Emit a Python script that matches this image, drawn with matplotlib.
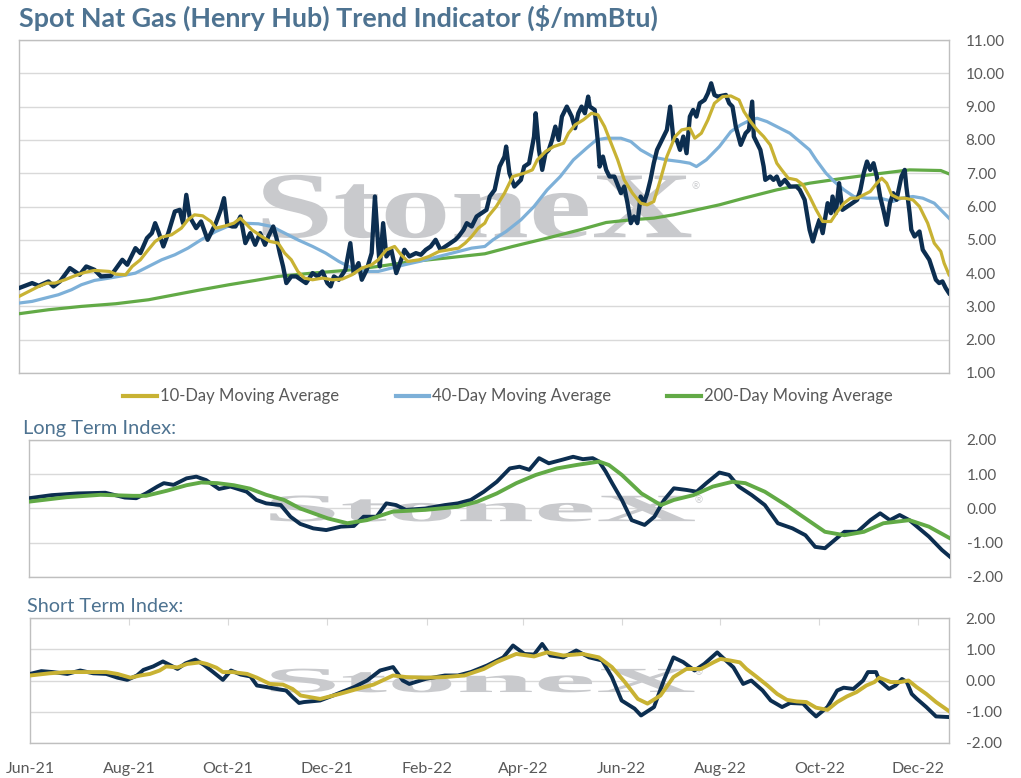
#!/usr/bin/env python3
"""Spot nat gas (Henry Hub) trend indicator: price, moving averages and index panels."""

import matplotlib
matplotlib.use("Agg")
import matplotlib.pyplot as plt
import matplotlib.dates as mdates
import pandas as pd
from matplotlib.lines import Line2D
from matplotlib.textpath import TextPath
from matplotlib.patches import PathPatch
from matplotlib.font_manager import FontProperties
from matplotlib.transforms import Affine2D

START = pd.Timestamp("2021-06-01")
END = pd.Timestamp("2022-12-20")

# top panel: days since START, $/mmBtu
SPOT_DAYS = [0, 8, 12, 18, 21, 25, 31, 34, 37, 41, 46, 50, 56, 63, 66, 71, 74, 78, 81, 83, 85,
             88, 91, 95, 98, 100, 102, 104, 108, 111, 115, 120, 123, 125, 127, 130, 132, 135,
             138, 141, 144, 147, 150, 152, 155, 157, 159, 161, 163, 166, 169, 172, 175, 179,
             182, 185, 188, 190, 192, 195, 199, 202, 204, 207, 209, 212, 215, 217, 219, 220,
             222, 224, 227, 230, 233, 235, 238, 242, 245, 248, 251, 254, 257, 260, 263, 266,
             268, 271, 273, 276, 279, 282, 285, 287, 290, 293, 296, 297, 299, 302, 306, 308,
             311, 314, 315, 317, 319, 321, 323, 325, 327, 329, 331, 334, 337, 339, 341, 343,
             345, 347, 348, 351, 353, 354, 356, 358, 360, 363, 367, 369, 371, 373, 375, 377,
             379, 381, 383, 385, 387, 389, 392, 395, 397, 399, 401, 403, 405, 407, 409, 411,
             413, 415, 418, 420, 422, 424, 426, 431, 433, 435, 437, 440, 443, 445, 447, 448,
             450, 452, 454, 455, 458, 460, 462, 464, 467, 470, 474, 476, 479, 482, 484, 486,
             488, 490, 493, 495, 496, 498, 500, 502, 505, 508, 511, 513, 515, 517, 519, 521,
             523, 525, 527, 529, 531, 533, 535, 538, 540, 541, 543, 544, 546, 549, 551, 555,
             557, 559, 561, 563, 565, 567]
SPOT = [3.55, 3.70, 3.62, 3.75, 3.60, 3.75, 4.15, 4.05, 3.95, 4.20, 4.10, 3.90, 3.92, 4.40,
        4.25, 4.75, 4.60, 5.05, 5.20, 5.50, 5.25, 4.80, 5.20, 5.85, 5.90, 5.50, 6.35, 5.70,
        5.35, 5.55, 5.00, 5.50, 5.90, 6.25, 5.45, 5.40, 5.40, 5.70, 4.90, 5.20, 4.85, 5.20,
        4.85, 5.10, 5.40, 5.05, 4.60, 4.20, 3.70, 3.90, 3.90, 3.80, 3.70, 4.00, 3.90, 4.05,
        3.70, 3.60, 3.90, 3.80, 4.10, 4.90, 4.00, 4.30, 3.80, 4.10, 4.60, 6.30, 4.80, 4.20,
        5.50, 4.50, 4.70, 4.00, 4.40, 4.70, 4.50, 4.60, 4.55, 4.70, 4.80, 5.00, 4.70, 4.80,
        4.90, 5.00, 5.10, 5.30, 5.50, 5.40, 5.70, 5.80, 5.90, 6.30, 6.50, 7.20, 7.50, 7.80,
        7.00, 6.60, 6.80, 7.20, 7.30, 8.10, 8.80, 7.70, 7.10, 7.60, 7.70, 8.00, 8.40, 8.00,
        8.70, 9.00, 8.70, 8.35, 8.80, 9.00, 8.80, 9.30, 9.00, 8.90, 7.90, 7.20, 7.50, 7.10,
        6.90, 6.90, 6.40, 6.60, 6.10, 5.50, 5.70, 5.50, 6.30, 6.10, 6.40, 6.80, 7.30, 7.70,
        8.00, 8.30, 9.00, 8.00, 8.00, 7.70, 8.10, 7.60, 8.70, 8.90, 8.70, 9.10, 9.20, 9.40,
        9.70, 9.35, 9.30, 9.35, 9.10, 9.00, 8.40, 7.85, 8.20, 8.30, 9.15, 8.10, 7.90, 7.70,
        7.20, 6.80, 6.90, 6.80, 6.90, 6.65, 6.80, 6.60, 6.60, 6.50, 6.20, 5.30, 4.95, 5.30,
        5.60, 5.20, 6.10, 5.80, 6.30, 5.80, 6.70, 5.90, 6.00, 6.10, 6.20, 6.50, 7.00, 7.35,
        7.10, 7.30, 6.90, 6.30, 5.90, 5.45, 6.10, 6.40, 6.20, 6.90, 7.10, 6.60, 5.80, 5.30,
        5.10, 5.25, 4.70, 4.40, 4.10, 3.80, 3.70, 3.75, 3.55, 3.40]

MA10_DAYS = [0, 6, 12, 17, 22, 28, 34, 40, 46, 55, 59, 65, 69, 74, 78, 83, 87, 93, 99, 103,
             107, 112, 117, 120, 126, 131, 135, 138, 142, 148, 153, 158, 162, 166, 170, 174,
             179, 185, 191, 197, 203, 209, 215, 219, 224, 229, 233, 237, 244, 250, 256, 262,
             268, 272, 276, 280, 284, 286, 291, 296, 301, 308, 313, 316, 321, 326, 332, 335,
             339, 344, 349, 353, 357, 361, 365, 369, 374, 379, 383, 387, 391, 395, 400, 404,
             409, 412, 416, 420, 424, 429, 434, 439, 442, 446, 450, 454, 458, 462, 465, 469,
             474, 478, 482, 486, 490, 495, 499, 503, 507, 511, 515, 519, 523, 526, 529, 532,
             536, 540, 545, 549, 554, 558, 562, 564, 567]
MA10 = [3.30, 3.45, 3.60, 3.70, 3.70, 3.80, 3.92, 4.02, 4.08, 4.05, 3.97, 3.95, 4.20, 4.40,
        4.65, 4.95, 5.08, 5.15, 5.35, 5.60, 5.75, 5.72, 5.55, 5.35, 5.42, 5.50, 5.65, 5.50,
        5.30, 5.10, 4.95, 4.90, 4.60, 4.40, 4.05, 3.85, 3.80, 3.85, 3.80, 3.82, 3.95, 4.15,
        4.25, 4.40, 4.70, 4.80, 4.55, 4.35, 4.40, 4.50, 4.65, 4.70, 4.75, 4.90, 5.10, 5.35,
        5.50, 5.70, 6.00, 6.40, 6.90, 7.00, 7.10, 7.40, 7.65, 7.80, 7.90, 8.20, 8.45, 8.60,
        8.80, 8.75, 8.40, 7.90, 7.40, 6.80, 6.40, 6.10, 6.05, 6.15, 6.80, 7.50, 8.10, 8.30,
        8.35, 8.05, 8.20, 8.60, 9.10, 9.30, 9.32, 9.20, 8.85, 8.55, 8.30, 8.10, 7.85, 7.30,
        7.10, 6.85, 6.80, 6.65, 6.30, 5.90, 5.55, 5.55, 5.85, 6.10, 6.25, 6.25, 6.35, 6.45,
        6.70, 6.85, 6.70, 6.35, 6.25, 6.25, 6.20, 6.00, 5.50, 4.90, 4.65, 4.30, 3.95]

MA40_DAYS = [0, 8, 16, 24, 32, 38, 46, 55, 63, 71, 79, 87, 95, 103, 111, 120, 128, 136, 146,
             154, 162, 170, 179, 187, 195, 203, 211, 219, 227, 235, 244, 252, 260, 268, 276,
             284, 289, 297, 306, 314, 322, 330, 338, 346, 352, 358, 367, 373, 379, 387, 395,
             403, 409, 413, 419, 423, 427, 434, 440, 446, 450, 456, 462, 470, 476, 482, 486,
             492, 497, 503, 509, 517, 525, 533, 538, 545, 551, 558, 562, 567]
MA40 = [3.10, 3.15, 3.25, 3.35, 3.50, 3.65, 3.78, 3.85, 3.92, 4.00, 4.20, 4.40, 4.55, 4.75,
        5.00, 5.25, 5.42, 5.50, 5.48, 5.40, 5.20, 5.00, 4.80, 4.60, 4.35, 4.15, 4.05, 4.05,
        4.15, 4.25, 4.35, 4.45, 4.55, 4.65, 4.75, 4.80, 5.00, 5.25, 5.60, 6.00, 6.50, 6.90,
        7.40, 7.75, 8.00, 8.05, 8.05, 7.95, 7.70, 7.48, 7.40, 7.35, 7.30, 7.20, 7.40, 7.60,
        7.80, 8.25, 8.45, 8.60, 8.65, 8.55, 8.40, 8.20, 7.95, 7.70, 7.40, 7.00, 6.75, 6.50,
        6.30, 6.25, 6.25, 6.15, 6.25, 6.30, 6.25, 6.10, 5.90, 5.65]

MA200_DAYS = [0, 18, 38, 59, 79, 95, 111, 128, 144, 158, 179, 199, 219, 240, 260, 284, 301,
              322, 342, 358, 373, 387, 399, 413, 427, 442, 462, 482, 503, 523, 543, 562, 567]
MA200 = [2.78, 2.90, 3.00, 3.08, 3.20, 3.35, 3.50, 3.65, 3.78, 3.90, 4.00, 4.08, 4.20, 4.35,
         4.45, 4.58, 4.80, 5.05, 5.30, 5.52, 5.60, 5.65, 5.75, 5.90, 6.05, 6.25, 6.50, 6.70,
         6.85, 6.98, 7.10, 7.08, 6.98]

# long term index
LT_DAYS = [0, 14, 30, 47, 59, 66, 72, 79, 83, 89, 97, 103, 109, 117, 124, 134, 140, 146, 155,
           161, 167, 175, 183, 192, 200, 206, 214, 220, 226, 232, 244, 256, 264, 272, 280, 288,
           296, 302, 308, 314, 320, 328, 335, 341, 347, 351, 355, 359, 365, 371, 379, 385, 391,
           397, 405, 411, 417, 425, 431, 437, 445, 453, 461, 470, 478, 484, 490, 496, 502, 510,
           518, 524, 530, 536, 542, 548, 554, 562, 567]
LT_INDEX = [0.30, 0.39, 0.44, 0.46, 0.32, 0.30, 0.44, 0.64, 0.74, 0.69, 0.88, 0.93, 0.83,
            0.57, 0.64, 0.49, 0.25, 0.15, 0.10, -0.24, -0.45, -0.58, -0.63, -0.53, -0.51,
            -0.24, -0.24, 0.15, 0.10, -0.04, 0.00, 0.10, 0.15, 0.25, 0.49, 0.78, 1.17, 1.22,
            1.13, 1.47, 1.32, 1.42, 1.51, 1.44, 1.47, 1.37, 1.08, 0.74, 0.25, -0.34, -0.48,
            -0.24, 0.25, 0.59, 0.54, 0.49, 0.74, 1.05, 0.98, 0.64, 0.39, 0.10, -0.43, -0.58,
            -0.78, -1.12, -1.16, -0.92, -0.68, -0.68, -0.34, -0.14, -0.34, -0.19, -0.34, -0.58,
            -0.82, -1.21, -1.41]
LT_AVG_DAYS = [0, 23, 44, 64, 72, 85, 97, 106, 116, 126, 136, 146, 157, 167, 184, 196, 208,
               224, 244, 264, 276, 288, 300, 312, 325, 337, 351, 357, 365, 377, 389, 397, 409,
               421, 433, 441, 453, 466, 478, 490, 502, 514, 526, 542, 554, 567]
LT_AVG = [0.20, 0.33, 0.40, 0.37, 0.37, 0.52, 0.68, 0.76, 0.74, 0.68, 0.58, 0.40, 0.25, 0.00,
          -0.29, -0.43, -0.34, -0.09, -0.04, 0.05, 0.20, 0.44, 0.74, 0.98, 1.17, 1.27, 1.37,
          1.27, 0.98, 0.44, 0.10, 0.25, 0.39, 0.64, 0.78, 0.74, 0.49, 0.10, -0.29, -0.68,
          -0.78, -0.68, -0.43, -0.34, -0.53, -0.87]

# short term index
ST_DAYS = [0, 7, 14, 23, 31, 39, 47, 54, 60, 66, 70, 76, 82, 85, 91, 96, 102, 107, 113, 119,
           124, 130, 136, 140, 146, 152, 158, 162, 166, 169, 179, 187, 200, 208, 216, 224, 230,
           234, 244, 256, 264, 272, 282, 292, 298, 305, 311, 316, 321, 329, 337, 345, 353, 359,
           365, 373, 377, 385, 391, 397, 403, 410, 416, 424, 426, 434, 440, 445, 452, 457, 464,
           469, 477, 481, 485, 492, 498, 502, 508, 514, 517, 522, 524, 530, 534, 538, 541, 544,
           547, 553, 559, 567]
ST_INDEX = [0.21, 0.30, 0.27, 0.21, 0.32, 0.23, 0.21, 0.09, 0.02, 0.16, 0.34, 0.45, 0.61,
            0.53, 0.37, 0.55, 0.67, 0.51, 0.27, 0.02, 0.32, 0.19, 0.13, -0.16, -0.21, -0.27,
            -0.32, -0.53, -0.72, -0.69, -0.64, -0.48, -0.21, 0.00, 0.32, 0.43, 0.00, -0.11,
            0.05, 0.16, 0.16, 0.27, 0.48, 0.74, 1.12, 0.85, 0.83, 1.17, 0.80, 0.74, 0.96, 0.74,
            0.64, 0.11, -0.64, -0.90, -1.12, -0.85, 0.00, 0.74, 0.59, 0.32, 0.53, 0.90, 0.80,
            0.42, -0.11, 0.00, -0.32, -0.64, -0.85, -0.72, -0.74, -0.96, -1.15, -0.85, -0.32,
            -0.23, -0.27, 0.00, 0.27, 0.27, 0.00, -0.27, -0.16, 0.05, -0.05, -0.43, -0.58,
            -0.85, -1.15, -1.17]
ST_AVG_DAYS = [0, 12, 23, 35, 47, 54, 62, 68, 74, 80, 84, 91, 97, 105, 109, 115, 119, 125,
               134, 140, 148, 156, 162, 167, 179, 191, 202, 212, 224, 232, 244, 256, 268, 280,
               288, 300, 311, 319, 329, 341, 351, 359, 367, 375, 381, 389, 397, 405, 414, 422,
               426, 432, 438, 442, 448, 455, 461, 467, 473, 479, 485, 492, 498, 504, 510, 516,
               521, 524, 531, 537, 542, 547, 553, 559, 567]
ST_AVG = [0.16, 0.23, 0.27, 0.27, 0.27, 0.21, 0.09, 0.16, 0.21, 0.32, 0.45, 0.42, 0.53, 0.58,
          0.53, 0.41, 0.27, 0.27, 0.21, 0.09, -0.11, -0.13, -0.27, -0.48, -0.59, -0.43, -0.27,
          -0.13, 0.16, 0.11, 0.09, 0.11, 0.16, 0.37, 0.59, 0.85, 0.77, 0.90, 0.80, 0.85, 0.74,
          0.43, -0.05, -0.59, -0.74, -0.48, 0.11, 0.37, 0.37, 0.59, 0.69, 0.64, 0.58, 0.37,
          0.13, -0.16, -0.43, -0.62, -0.67, -0.69, -0.87, -0.94, -0.69, -0.51, -0.37, -0.16,
          -0.05, 0.09, -0.05, -0.05, 0.00, -0.21, -0.43, -0.69, -0.98]

NAVY = "#0C2E50"
GOLD = "#C8B233"
LIGHT_BLUE = "#7DB0D8"
GREEN = "#62AA46"
TITLE_COLOR = "#4E7391"
TICK_COLOR = "#595959"
GRID_COLOR = "#D9D9D9"
EDGE_COLOR = "#BFBFBF"
WM_COLOR = "#C9CACD"

W, H = 1021, 778


def to_dates(days):
    return START + pd.to_timedelta(days, unit="D")


def px_axes(left, top, right, bottom):
    return [left / W, 1 - bottom / H, (right - left) / W, (bottom - top) / H]


def watermark(ax):
    tp = TextPath((0, 0), "StoneX", size=100,
                  prop=FontProperties(family="Liberation Serif", weight="bold"))
    ext = tp.get_extents()
    x0, x1, y0, y1 = 0.262, 0.723, 0.405, 0.595
    tr = (Affine2D().translate(-ext.x0, -ext.y0)
          .scale((x1 - x0) / ext.width, (y1 - y0) / ext.height)
          .translate(x0, y0) + ax.transAxes)
    ax.add_patch(PathPatch(tp, transform=tr, facecolor=WM_COLOR, edgecolor="none", zorder=1))
    ax.text(x1 + 0.004, y1 - 0.035, "\u00ae", transform=ax.transAxes, fontsize=7,
            color=WM_COLOR, ha="center", va="center", zorder=1)


def style_axes(ax, ylim, yticks):
    ax.set_xlim(START, END)
    ax.set_ylim(*ylim)
    ax.set_yticks(yticks)
    ax.yaxis.set_major_formatter(matplotlib.ticker.FormatStrFormatter("%.2f"))
    ax.yaxis.tick_right()
    ax.tick_params(axis="y", length=0, pad=12, labelsize=11, labelcolor=TICK_COLOR)
    for lab in ax.get_yticklabels():
        lab.set_horizontalalignment("left")
    ax.grid(axis="y", color=GRID_COLOR, linewidth=1.0, zorder=0)
    ax.set_axisbelow(True)
    for sp in ax.spines.values():
        sp.set_color(EDGE_COLOR)
        sp.set_linewidth(1.0)
    watermark(ax)


def main():
    plt.rcParams["font.family"] = ["Lato", "DejaVu Sans"]
    fig = plt.figure(figsize=(W / 100, H / 100), dpi=100)

    fig.text(19 / W, 1 - 18 / H, "Spot Nat Gas (Henry Hub) Trend Indicator ($/mmBtu)",
             fontsize=19.4, fontweight="bold", color=TITLE_COLOR, ha="left", va="center")

    # price panel
    ax1 = fig.add_axes(px_axes(19, 40, 949, 373))
    style_axes(ax1, (1, 11), range(1, 12))
    ax1.plot(to_dates(MA200_DAYS), MA200, color=GREEN, linewidth=2.3, zorder=3)
    ax1.plot(to_dates(MA40_DAYS), MA40, color=LIGHT_BLUE, linewidth=2.3, zorder=3)
    ax1.plot(to_dates(SPOT_DAYS), SPOT, color=NAVY, linewidth=3.1, zorder=4)
    ax1.plot(to_dates(MA10_DAYS), MA10, color=GOLD, linewidth=2.3, zorder=5)
    ax1.set_xticks([])

    # legend drawn by hand below the price panel
    ly = 1 - 396 / H
    for x0, x1, color, label in [(123, 157, GOLD, "10-Day Moving Average"),
                                 (396, 429, LIGHT_BLUE, "40-Day Moving Average"),
                                 (667, 701, GREEN, "200-Day Moving Average")]:
        fig.add_artist(Line2D([x0 / W, x1 / W], [ly, ly], color=color, linewidth=3,
                              transform=fig.transFigure))
        fig.text((x1 + 3) / W, ly, label, fontsize=12, color=TICK_COLOR,
                 ha="left", va="center")

    # long term index
    fig.text(23 / W, 1 - 429 / H, "Long Term Index:", fontsize=14.4, color=TITLE_COLOR,
             ha="left", va="center")
    ax2 = fig.add_axes(px_axes(29, 440, 950, 577))
    style_axes(ax2, (-2, 2), [-2, -1, 0, 1, 2])
    ax2.plot(to_dates(LT_DAYS), LT_INDEX, color=NAVY, linewidth=2.8, zorder=3)
    ax2.plot(to_dates(LT_AVG_DAYS), LT_AVG, color=GREEN, linewidth=2.8, zorder=4)
    ax2.set_xticks([])

    # short term index
    fig.text(27 / W, 1 - 607 / H, "Short Term Index:", fontsize=14.3, color=TITLE_COLOR,
             ha="left", va="center")
    ax3 = fig.add_axes(px_axes(30, 618, 949, 743))
    style_axes(ax3, (-2, 2), [-2, -1, 0, 1, 2])
    ax3.plot(to_dates(ST_DAYS), ST_INDEX, color=NAVY, linewidth=2.8, zorder=3)
    ax3.plot(to_dates(ST_AVG_DAYS), ST_AVG, color=GOLD, linewidth=2.8, zorder=4)
    ax3.xaxis.set_major_locator(mdates.MonthLocator(bymonth=[2, 4, 6, 8, 10, 12]))
    ax3.xaxis.set_major_formatter(mdates.DateFormatter("%b-%y"))
    ax3.tick_params(axis="x", bottom=False, top=True, labelbottom=True, labeltop=False,
                    direction="in", length=5, color=GRID_COLOR, labelsize=11.5,
                    labelcolor=TICK_COLOR, pad=14)

    fig.savefig("out.png", dpi=100)
    plt.close(fig)


if __name__ == "__main__":
    main()
